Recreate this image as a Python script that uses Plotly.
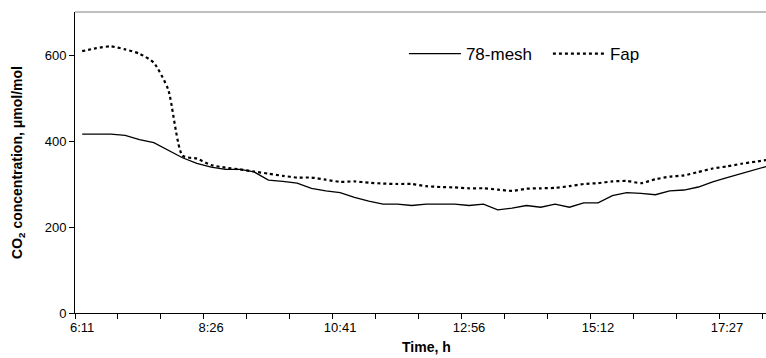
import plotly.graph_objects as go

# Data (CO2 concentration, µmol/mol), one value per ~15 min sample starting 6:11
mesh78 = [416, 416, 416, 413, 403, 396, 379, 361, 348, 339,
          334, 334, 328, 309, 306, 302, 290, 284, 280, 269,
          260, 253, 253, 250, 253, 253, 253, 250, 253, 240,
          244, 250, 246, 253, 246, 256, 256, 273, 280, 278,
          275, 284, 286, 293, 305, 315, 324, 333, 343]
fap = [609, 616, 620, 613, 603, 582, 520, 366, 359, 344,
       338, 334, 329, 324, 319, 315, 315, 310, 305, 306,
       303, 301, 300, 300, 295, 293, 292, 290, 290, 287,
       284, 289, 290, 291, 295, 300, 302, 306, 307, 302,
       311, 317, 320, 328, 336, 341, 347, 352, 357]
tick_labels = ["6:11", "8:26", "10:41", "12:56", "15:12", "17:27"]
label_every = 9
tick_every = 3

samples = list(range(len(mesh78)))
label_pos = [i * label_every for i in range(len(tick_labels))]
minor_pos = [-0.5 + k * tick_every for k in range(len(mesh78) // tick_every + 1)]

FONT = "Liberation Sans, Arial, sans-serif"

fig = go.Figure()
fig.add_trace(go.Scatter(x=samples, y=mesh78, mode="lines", name="78-mesh",
                         line=dict(color="black", width=1.3)))
fig.add_trace(go.Scatter(x=samples, y=fap, mode="lines", name="Fap",
                         line=dict(color="black", width=2.2, dash="3px,3px",
                                   shape="spline", smoothing=0.6)))

fig.update_layout(
    width=766, height=358,
    margin=dict(l=75, r=0, t=12, b=45),
    paper_bgcolor="white", plot_bgcolor="white",
    font=dict(family=FONT, size=13, color="black"),
    showlegend=True,
    legend=dict(orientation="h", x=0.476, y=0.86, xanchor="left", yanchor="middle",
                font=dict(size=17, family=FONT, color="black"),
                bgcolor="rgba(0,0,0,0)", itemwidth=52,
                entrywidth=77, entrywidthmode="pixels"),
    xaxis=dict(range=[-0.5, 47.72], tickmode="array", tickvals=label_pos,
               ticktext=tick_labels, ticks="outside", ticklen=2,
               tickcolor="rgba(0,0,0,0)", showgrid=False, zeroline=False,
               showline=True, linecolor="black", linewidth=1,
               tickfont=dict(size=13, family=FONT, color="black"),
               minor=dict(tickmode="array", tickvals=minor_pos, ticks="outside",
                          ticklen=5, tickcolor="black", tickwidth=1, showgrid=False)),
    yaxis=dict(range=[0, 700], tickmode="array", tickvals=[0, 200, 400, 600],
               ticks="outside", ticklen=5, tickcolor="black", showgrid=False,
               zeroline=False, showline=True, linecolor="black", linewidth=1,
               tickfont=dict(size=13, family=FONT, color="black"),
               title=dict(text="<b>CO<sub>2</sub> concentration, μmol/mol</b>",
                          font=dict(size=14, family=FONT, color="black"), standoff=18)),
)

fig.add_shape(type="line", xref="paper", yref="paper", x0=0, x1=1, y0=1, y1=1,
              line=dict(color="#808080", width=1))
fig.add_annotation(text="<b>Time, h</b>", xref="x", x=24, yref="paper", y=0,
                   yanchor="middle", yshift=-34, showarrow=False,
                   font=dict(size=14, family=FONT, color="black"))

fig.write_html("out.html")
